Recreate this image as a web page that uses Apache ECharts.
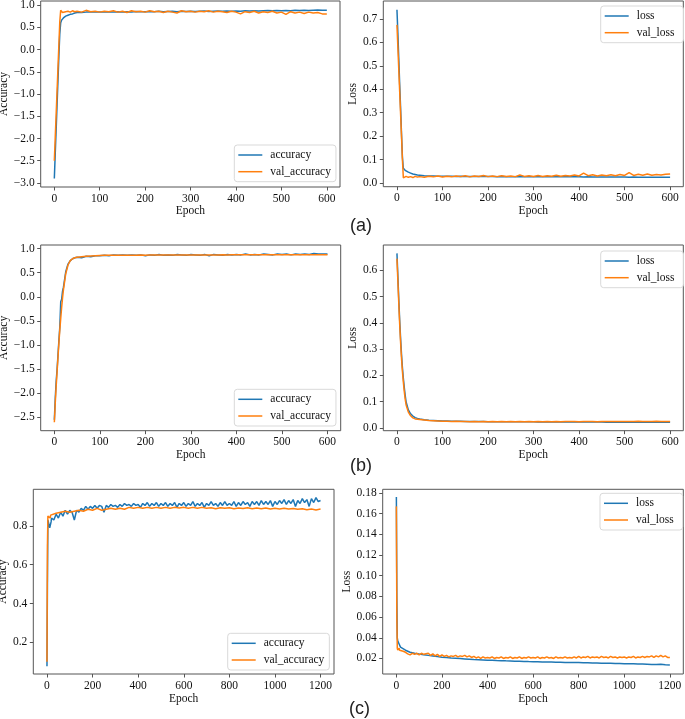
<!DOCTYPE html>
<html><head><meta charset="utf-8">
<script src="https://cdn.jsdelivr.net/npm/echarts@6/dist/echarts.min.js"></script>
<style>html,body{margin:0;padding:0;background:#fff}#c{width:685px;height:719px}</style>
</head><body><div id="c"></div>
<script>
// ---------- tick labels ----------
const xTicks600 = [0,100,200,300,400,500,600];
const xTicks1200 = [0,200,400,600,800,1000,1200];
const yTicksAccA = [-3.0,-2.5,-2.0,-1.5,-1.0,-0.5,0.0,0.5,1.0];
const yTicksLossA = [0.0,0.1,0.2,0.3,0.4,0.5,0.6,0.7];
const yTicksAccB = [-2.5,-2.0,-1.5,-1.0,-0.5,0.0,0.5,1.0];
const yTicksLossB = [0.0,0.1,0.2,0.3,0.4,0.5,0.6];
const yTicksAccC = [0.2,0.4,0.6,0.8];
const yTicksLossC = [0.02,0.04,0.06,0.08,0.10,0.12,0.14,0.16,0.18];

// ---------- epochs ----------
const epochsAB = [0,2,4,6,8,10,12,14,16,18,20,25,30,35,40,45,50,
 60,70,80,90,100,110,120,130,140,150,160,170,180,190,200,210,220,230,240,250,260,270,280,290,300,
 310,320,330,340,350,360,370,380,390,400,410,420,430,440,450,460,470,480,490,500,
 510,520,530,540,550,560,570,580,590,600];
const epochsC10 = [0,2,4,6,8,10,12,14,16,18,20,
 30,40,50,60,70,80,90,100,110,120,130,140,150,160,170,180,190,200,
 210,220,230,240,250,260,270,280,290,300,310,320,330,340,350,360,370,380,390,400,
 410,420,430,440,450,460,470,480,490,500,510,520,530,540,550,560,570,580,590,600,
 610,620,630,640,650,660,670,680,690,700,710,720,730,740,750,760,770,780,790,800,
 810,820,830,840,850,860,870,880,890,900,910,920,930,940,950,960,970,980,990,1000,
 1010,1020,1030,1040,1050,1060,1070,1080,1090,1100,1110,1120,1130,1140,1150,1160,1170,1180,1190,1200];
const epochsC20 = [0,2,4,6,8,10,12,14,16,18,20,
 40,60,80,100,120,140,160,180,200,220,240,260,280,300,320,340,360,380,400,
 420,440,460,480,500,520,540,560,580,600,620,640,660,680,700,720,740,760,780,800,
 820,840,860,880,900,920,940,960,980,1000,1020,1040,1060,1080,1100,1120,1140,1160,1180,1200];

// ---------- (a) ----------
const accA = [-2.90,-2.35,-1.80,-1.25,-0.70,-0.15,0.35,0.60,0.66,0.69,0.71,
 0.75,0.77,0.79,0.80,0.82,0.83,
 0.83,0.84,0.84,0.84,0.845,
 0.84,0.85,0.845,0.85,0.84,0.85,0.845,0.855,0.85,0.85,
 0.855,0.85,0.86,0.85,0.855,0.86,0.85,0.86,0.855,0.86,
 0.855,0.86,0.865,0.855,0.86,0.865,0.86,0.865,0.86,0.865,
 0.86,0.87,0.865,0.87,0.865,0.87,0.875,0.87,0.875,0.87,
 0.875,0.87,0.88,0.875,0.88,0.875,0.88,0.885,0.88,0.88];
const valAccA = [-2.50,-1.98,-1.46,-0.94,-0.42,0.10,0.62,0.88,0.86,0.83,0.82,
 0.85,0.86,0.84,0.87,0.85,0.86,
 0.84,0.88,0.85,0.86,0.84,
 0.86,0.85,0.87,0.84,0.86,0.83,0.87,0.85,0.86,0.84,
 0.87,0.85,0.86,0.83,0.86,0.84,0.82,0.87,0.85,0.86,
 0.84,0.86,0.85,0.87,0.84,0.86,0.85,0.83,0.86,0.84,
 0.80,0.85,0.83,0.86,0.82,0.85,0.83,0.86,0.82,0.84,
 0.79,0.85,0.82,0.84,0.81,0.84,0.82,0.83,0.80,0.80];
const lossA = [0.74,0.64,0.53,0.42,0.32,0.21,0.11,0.063,0.058,0.054,0.051,
 0.046,0.042,0.038,0.036,0.034,0.033,
 0.031,0.030,0.030,0.029,0.029,
 0.029,0.029,0.028,0.029,0.028,0.028,0.028,0.028,0.028,0.028,
 0.028,0.027,0.028,0.027,0.027,0.027,0.027,0.027,0.027,0.027,
 0.027,0.026,0.027,0.026,0.026,0.026,0.026,0.026,0.026,0.026,
 0.025,0.026,0.025,0.025,0.025,0.025,0.025,0.025,0.025,0.025,
 0.024,0.025,0.024,0.024,0.024,0.024,0.024,0.024,0.024,0.024];
const valLossA = [0.675,0.58,0.485,0.39,0.295,0.20,0.10,0.022,0.026,0.023,0.028,
 0.024,0.027,0.023,0.028,0.025,0.027,
 0.024,0.029,0.026,0.030,0.025,
 0.029,0.026,0.030,0.027,0.031,0.026,0.030,0.028,0.032,0.027,
 0.030,0.027,0.031,0.028,0.030,0.027,0.034,0.028,0.031,0.028,
 0.032,0.028,0.031,0.029,0.033,0.029,0.032,0.030,0.034,0.030,
 0.042,0.031,0.035,0.030,0.034,0.031,0.035,0.031,0.036,0.032,
 0.044,0.032,0.037,0.033,0.038,0.033,0.036,0.034,0.037,0.038];

// ---------- (b) ----------
const accB = [-2.55,-2.10,-1.75,-1.50,-1.20,-0.90,-0.62,-0.10,-0.05,0.12,0.20,
 0.52,0.68,0.75,0.79,0.81,0.82,
 0.81,0.84,0.83,0.85,0.85,
 0.86,0.85,0.87,0.86,0.87,0.86,0.87,0.86,0.87,0.85,
 0.87,0.86,0.88,0.86,0.87,0.86,0.88,0.87,0.86,0.88,
 0.87,0.86,0.88,0.85,0.88,0.87,0.86,0.88,0.87,0.88,
 0.87,0.89,0.87,0.88,0.87,0.89,0.88,0.87,0.89,0.88,
 0.89,0.87,0.89,0.88,0.89,0.88,0.90,0.89,0.89,0.89];
const valAccB = [-2.60,-2.20,-1.85,-1.55,-1.25,-0.95,-0.68,-0.45,-0.22,-0.02,0.15,
 0.48,0.66,0.75,0.79,0.81,0.82,
 0.83,0.84,0.845,0.85,0.855,
 0.86,0.86,0.862,0.862,0.864,0.863,0.865,0.864,0.866,0.865,
 0.866,0.866,0.867,0.866,0.868,0.867,0.868,0.868,0.869,0.868,
 0.869,0.869,0.87,0.869,0.87,0.87,0.871,0.87,0.871,0.871,
 0.871,0.872,0.871,0.872,0.872,0.872,0.873,0.872,0.873,0.873,
 0.873,0.873,0.874,0.873,0.874,0.874,0.874,0.874,0.875,0.875];
const lossB = [0.665,0.58,0.49,0.41,0.34,0.28,0.23,0.19,0.155,0.125,0.10,
 0.068,0.053,0.045,0.039,0.036,0.034,
 0.031,0.029,0.028,0.027,0.026,
 0.026,0.025,0.025,0.025,0.024,0.024,0.024,0.024,0.024,0.023,
 0.023,0.023,0.023,0.023,0.023,0.023,0.023,0.023,0.023,0.023,
 0.022,0.023,0.022,0.022,0.022,0.022,0.022,0.022,0.022,0.022,
 0.022,0.022,0.022,0.022,0.022,0.021,0.022,0.021,0.021,0.021,
 0.021,0.021,0.021,0.021,0.021,0.021,0.021,0.021,0.021,0.021];
const valLossB = [0.645,0.56,0.475,0.395,0.325,0.265,0.215,0.175,0.14,0.11,0.088,
 0.06,0.046,0.038,0.034,0.033,0.032,
 0.030,0.028,0.027,0.026,0.025,
 0.025,0.024,0.025,0.024,0.024,0.023,0.024,0.023,0.024,0.023,
 0.024,0.023,0.024,0.023,0.024,0.023,0.024,0.023,0.024,0.023,
 0.024,0.023,0.024,0.023,0.024,0.023,0.024,0.024,0.024,0.023,
 0.024,0.024,0.024,0.023,0.024,0.024,0.024,0.024,0.024,0.024,
 0.024,0.024,0.025,0.024,0.024,0.024,0.025,0.024,0.024,0.024];

// ---------- (c) ----------
const accC = [0.077,0.50,0.83,0.83,0.84,0.82,0.79,0.80,0.785,0.82,0.84,
 0.83,0.86,0.84,0.87,0.85,0.88,0.86,0.88,0.87,0.83,0.88,0.87,0.89,0.88,0.90,0.885,0.90,0.89,
 0.905,0.89,0.905,0.90,0.87,0.905,0.895,0.91,0.90,0.905,
 0.895,0.91,0.90,0.915,0.905,0.91,0.90,0.915,0.905,0.91,
 0.895,0.915,0.905,0.92,0.90,0.915,0.905,0.92,0.90,0.915,
 0.905,0.92,0.90,0.915,0.905,0.92,0.895,0.915,0.905,0.92,
 0.90,0.915,0.905,0.925,0.90,0.915,0.905,0.92,0.895,0.915,
 0.905,0.925,0.905,0.915,0.90,0.92,0.905,0.925,0.905,0.915,
 0.905,0.925,0.90,0.92,0.905,0.925,0.91,0.92,0.90,0.925,
 0.91,0.925,0.905,0.93,0.91,0.925,0.91,0.93,0.90,0.925,
 0.91,0.93,0.915,0.935,0.91,0.93,0.915,0.935,0.90,0.93,
 0.915,0.94,0.92,0.935,0.90,0.94,0.92,0.945,0.925,0.93];
const valAccC = [0.10,0.70,0.85,0.84,0.855,0.845,0.85,0.84,0.855,0.85,0.86,
 0.865,0.87,0.875,0.87,0.875,0.88,0.875,0.885,0.88,
 0.89,0.88,0.885,0.89,0.885,0.89,0.885,0.895,0.89,0.895,
 0.89,0.895,0.89,0.895,0.89,0.895,0.89,0.895,0.892,0.895,
 0.89,0.895,0.89,0.895,0.89,0.893,0.888,0.893,0.89,0.893,
 0.888,0.892,0.889,0.893,0.888,0.892,0.888,0.892,0.887,0.89,
 0.887,0.89,0.886,0.889,0.885,0.888,0.883,0.886,0.882,0.886];
const lossC = [0.176,0.08,0.04,0.037,0.036,0.035,0.034,0.033,0.032,0.031,0.0305,
 0.028,0.026,0.025,0.0243,0.0237,0.023,0.0224,0.0218,0.0213,
 0.0209,0.0205,0.0202,0.0199,0.0196,0.0193,0.019,0.0188,0.0186,0.0184,
 0.0182,0.018,0.0179,0.0177,0.0176,0.0174,0.0173,0.0172,0.017,0.0169,
 0.0168,0.0167,0.0166,0.0165,0.0164,0.0163,0.0162,0.0161,0.016,0.016,
 0.0159,0.0158,0.0157,0.0156,0.0155,0.0154,0.0153,0.0152,0.0151,0.015,
 0.0149,0.0148,0.0147,0.0146,0.0145,0.0143,0.0142,0.0145,0.0139,0.0137];
const valLossC = [0.167,0.06,0.03,0.028,0.029,0.027,0.03,0.028,0.029,0.027,0.028,
 0.027,0.026,0.0245,0.0235,0.025,0.024,0.025,0.0235,0.025,0.024,0.0245,0.025,0.023,0.0245,0.0225,0.024,0.022,0.0235,
 0.022,0.023,0.0215,0.0225,0.022,0.023,0.0215,0.0225,0.022,0.023,
 0.0215,0.0225,0.021,0.022,0.0205,0.0215,0.02,0.0215,0.0205,0.021,
 0.0205,0.0215,0.02,0.021,0.0205,0.0215,0.02,0.021,0.0205,0.0215,
 0.02,0.021,0.0205,0.0215,0.02,0.021,0.0205,0.0215,0.0205,0.021,
 0.0205,0.0215,0.02,0.021,0.0205,0.0215,0.0205,0.021,0.02,0.0215,
 0.0205,0.021,0.0205,0.0215,0.0205,0.021,0.0205,0.0215,0.0205,0.022,
 0.0205,0.0215,0.021,0.022,0.0205,0.0215,0.021,0.0215,0.0205,0.022,
 0.021,0.0215,0.0205,0.022,0.021,0.0215,0.0205,0.0215,0.021,0.0215,
 0.0205,0.0215,0.021,0.022,0.0205,0.0215,0.021,0.022,0.021,0.022,
 0.0215,0.0225,0.021,0.0225,0.0215,0.023,0.0215,0.0225,0.021,0.021];

const panelLabels = ['(a)','(b)','(c)'];

// ---------- build ----------
const FONT = 'Liberation Serif';
const FS = 11.5;
const TXT = '#111';
const FRAME = '#555';
const BLUE = '#1f77b4', ORANGE = '#ff7f0e';
const pairs = (xs, ys) => xs.map((x, i) => [x, ys[i]]);

const panels = [
 {g:[40.7,1,299.3,186], x:[-30,629], xt:xTicks600, y:[-3.09,1.09], yt:yTicksAccA, dec:1, yn:'Accuracy', yg:28, xg:17,
  s:[['accuracy',epochsAB,accA,BLUE],['val_accuracy',epochsAB,valAccA,ORANGE]], lg:[234.3,145], pr:5},
 {g:[383.3,1,300,185.7], x:[-30,629], xt:xTicks600, y:[-0.016,0.777], yt:yTicksLossA, dec:1, yn:'Loss', yg:21.5, xg:17,
  s:[['loss',epochsAB,lossA,BLUE],['val_loss',epochsAB,valLossA,ORANGE]], lg:[600.7,6], pr:9},
 {g:[40.7,245,300,185.7], x:[-30,629], xt:xTicks600, y:[-2.775,1.075], yt:yTicksAccB, dec:1, yn:'Accuracy', yg:28, xg:17.5,
  s:[['accuracy',epochsAB,accB,BLUE],['val_accuracy',epochsAB,valAccB,ORANGE]], lg:[234.3,389.3], pr:5},
 {g:[383.3,245,300,185.7], x:[-30,629], xt:xTicks600, y:[-0.011,0.697], yt:yTicksLossB, dec:1, yn:'Loss', yg:21.5, xg:17.5,
  s:[['loss',epochsAB,lossB,BLUE],['val_loss',epochsAB,valLossB,ORANGE]], lg:[600.7,251], pr:9},
 {g:[33.3,489.3,300.7,184.7], x:[-60,1259], xt:xTicks1200, y:[0.037,0.988], yt:yTicksAccC, dec:1, yn:'Accuracy', yg:21.5, xg:19,
  s:[['accuracy',epochsC10,accC,BLUE],['val_accuracy',epochsC20,valAccC,ORANGE]], lg:[227.7,633.3], pr:5},
 {g:[382.7,489.3,300.6,184.7], x:[-60,1259], xt:xTicks1200, y:[0.005,0.1835], yt:yTicksLossC, dec:2, yn:'Loss', yg:28.5, xg:19,
  s:[['loss',epochsC20,lossC,BLUE],['val_loss',epochsC10,valLossC,ORANGE]], lg:[600,493.3], pr:9}
];

const txt = {fontFamily: FONT, fontSize: FS, color: TXT};
const grid = [], xAxis = [], yAxis = [], series = [], legend = [];
panels.forEach((p, i) => {
  grid.push({left:p.g[0], top:p.g[1], width:p.g[2], height:p.g[3], show:true, borderColor:FRAME, borderWidth:1,
    backgroundColor:'transparent', containLabel:false, outerBoundsMode:'none'});
  xAxis.push({gridIndex:i, type:'value', position:'bottom', min:p.x[0], max:p.x[1], name:'Epoch', nameLocation:'middle', nameGap:p.xg,
    nameTextStyle:txt, axisLine:{show:false, onZero:false}, splitLine:{show:false},
    axisTick:{show:true, length:3.5, lineStyle:{color:FRAME, width:1}, customValues:p.xt},
    axisLabel:Object.assign({customValues:p.xt, margin:5.5, formatter:(v)=>String(v)}, txt)});
  yAxis.push({gridIndex:i, type:'value', position:'left', min:p.y[0], max:p.y[1], name:p.yn, nameLocation:'middle', nameGap:p.yg,
    nameTextStyle:txt, axisLine:{show:false, onZero:false}, splitLine:{show:false},
    axisTick:{show:true, length:3.5, lineStyle:{color:FRAME, width:1}, customValues:p.yt},
    axisLabel:Object.assign({customValues:p.yt, margin:6, formatter:(v)=>Number(v).toFixed(p.dec).replace('-', '\u2212')}, txt)});
  p.s.forEach(s => {
    series.push({type:'line', name:s[0], xAxisIndex:i, yAxisIndex:i, data:pairs(s[1], s[2]), showSymbol:false, symbol:'none',
      lineStyle:{width:1.5, color:s[3]}, itemStyle:{color:s[3]}, animation:false, silent:true});
  });
  legend.push({left:p.lg[0], top:p.lg[1], orient:'vertical', icon:'rect', itemWidth:24, itemHeight:1.5, itemGap:2.7,
    padding:[3,p.pr,3,4], backgroundColor:'rgba(255,255,255,0.85)', borderColor:'#d9d9d9', borderWidth:1, borderRadius:3,
    selectedMode:false, data:p.s.map(s=>s[0]),
    textStyle:{fontFamily:FONT, fontSize:FS, color:TXT, lineHeight:14, padding:[0,0,0,3]}});
});

const labelPos = [[350,217],[350,457],[349,700]];
const title = panelLabels.map((t, i) => ({text:t, left:labelPos[i][0], top:labelPos[i][1], padding:0,
  textStyle:{fontFamily:'Liberation Sans', fontSize:18, fontWeight:'normal', color:'#222'}}));

const chart = echarts.init(document.getElementById('c'), null, {renderer:'canvas'});
chart.setOption({animation:false, backgroundColor:'#fff', title, grid, xAxis, yAxis, series, legend});
</script>
</body></html>
